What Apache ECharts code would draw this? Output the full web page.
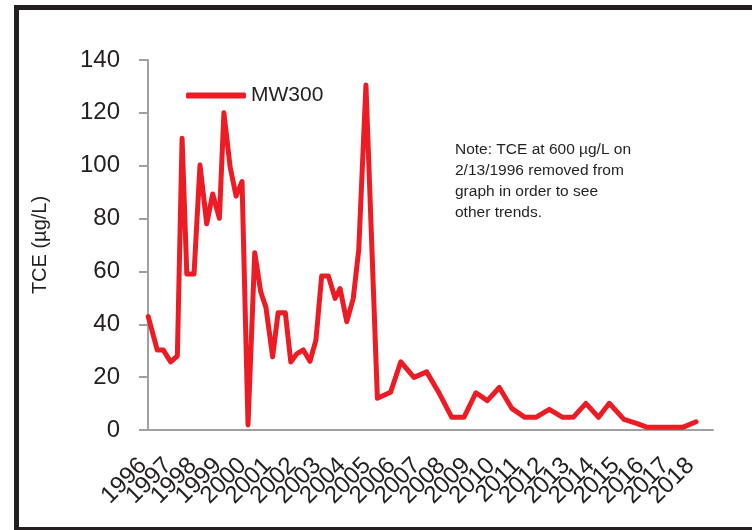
<!DOCTYPE html>
<html>
<head>
<meta charset="utf-8">
<script src="https://cdn.jsdelivr.net/npm/echarts@6/dist/echarts.min.js"></script>
<style>html,body{margin:0;padding:0;background:#fff}#c{width:752px;height:530px}</style>
</head>
<body>
<div id="c"></div>
<script>
// Sample dates as decimal years (axis origin = first sample of 1996)
const sampleYears = [1996.01,1996.37,1996.61,1996.91,1997.18,1997.37,1997.56,1997.85,1998.09,1998.36,
  1998.60,1998.87,1999.05,1999.30,1999.54,1999.78,2000.02,2000.29,2000.53,2000.74,
  2001.01,2001.23,2001.52,2001.74,2001.98,2002.24,2002.51,2002.75,2002.98,2003.25,
  2003.52,2003.72,2003.99,2004.25,2004.47,2004.76,2005.22,2005.75,2006.16,2006.69,
  2007.20,2007.67,2008.21,2008.70,2009.18,2009.64,2010.12,2010.62,2011.15,2011.59,
  2012.13,2012.67,2013.09,2013.60,2014.11,2014.54,2015.13,2015.64,2016.07,2016.58,
  2017.49,2018.03];
const tceMW300 = [42.9,30.3,30.3,25.8,28,110.4,59,59,100.3,78,
  89.3,80.1,120,99.6,88.5,94,1.9,67.1,52.3,46.4,
  27.7,44.4,44.4,25.7,28.8,30.3,26,34,58.3,58.3,
  49.8,53.5,41,49.8,68.1,130.5,12,14.3,25.8,19.9,
  22,14.5,4.8,4.8,14.1,11.1,16.1,8.2,4.8,4.8,
  7.8,4.8,4.8,10.1,4.8,10.1,4,2.5,1,1,
  1,3.1];
const yearLabels = ['1996','1997','1998','1999','2000','2001','2002','2003','2004','2005','2006','2007',
  '2008','2009','2010','2011','2012','2013','2014','2015','2016','2017','2018'];
const seriesName = 'MW300';
const yAxisTitle = 'TCE (µg/L)';
const noteLines = ['Note: TCE at 600 µg/L on', '2/13/1996 removed from', 'graph in order to see', 'other trends.'];

const font = "'Liberation Sans', Arial, sans-serif";
const txt = '#231f20';
const xMin = 1996, xMax = 2018.71;
const plotLeft = 148, plotRight = 39, plotW = 752 - plotLeft - plotRight;
// right edge for the year-label grid: where the last labelled year falls on the value axis
const labelRight = 752 - (plotLeft + plotW * (Number(yearLabels[yearLabels.length - 1]) - xMin) / (xMax - xMin));

const chart = echarts.init(document.getElementById('c'), null, {renderer: 'canvas'});
chart.setOption({
  animation: false,
  backgroundColor: '#fff',
  textStyle: {fontFamily: font, color: txt},
  grid: [
    {left: plotLeft, right: plotRight, top: 60, bottom: 100, containLabel: false},
    {left: plotLeft, right: labelRight, top: 60, bottom: 100, containLabel: false}
  ],
  legend: {
    data: [seriesName], left: 181, top: 80, icon: 'roundRect',
    itemWidth: 60, itemHeight: 6, itemGap: 5,
    textStyle: {fontSize: 21, color: txt, fontFamily: font, padding: [0,0,0,0]}
  },
  xAxis: [{
    type: 'value', gridIndex: 0, min: xMin, max: xMax, interval: 1,
    splitLine: {show: false},
    axisTick: {show: false},
    axisLine: {lineStyle: {color: '#a0a0a0', width: 2}},
    axisLabel: {show: false}
  }, {
    type: 'category', gridIndex: 1, data: yearLabels, boundaryGap: false,
    axisLine: {show: false}, axisTick: {show: false}, splitLine: {show: false},
    axisLabel: {
      interval: 0, rotate: 45, fontSize: 24, color: txt, fontFamily: font, margin: 27,
      padding: [0, 7, 0, 0]
    }
  }],
  yAxis: [{
    type: 'value', gridIndex: 0, min: 0, max: 140, interval: 20,
    name: yAxisTitle, nameLocation: 'middle', nameGap: 98, nameRotate: 90,
    nameTextStyle: {fontSize: 20, color: txt, fontFamily: font},
    splitLine: {show: false},
    axisLine: {show: true, lineStyle: {color: '#a0a0a0', width: 2}},
    axisTick: {show: true, length: 9, lineStyle: {color: '#a0a0a0', width: 2}},
    axisLabel: {fontSize: 24, color: txt, fontFamily: font, margin: 28}
  }, {
    type: 'value', gridIndex: 1, min: 0, max: 140, show: false
  }],
  series: [{
    name: seriesName, type: 'line', symbol: 'none', xAxisIndex: 0, yAxisIndex: 0,
    data: sampleYears.map((y, i) => [y, tceMW300[i]]),
    lineStyle: {color: '#ed1c24', width: 5, join: 'round', cap: 'round'},
    itemStyle: {color: '#ed1c24'}
  }],
  graphic: [
    {type: 'rect', shape: {x: 16.5, y: 7.5, width: 800, height: 522}, style: {fill: 'none', stroke: txt, lineWidth: 5}, silent: true},
    {type: 'text', left: 455, top: 139, style: {text: noteLines.join('\n'), font: '15.5px ' + font, fill: txt, lineHeight: 21}}
  ]
});
</script>
</body>
</html>
